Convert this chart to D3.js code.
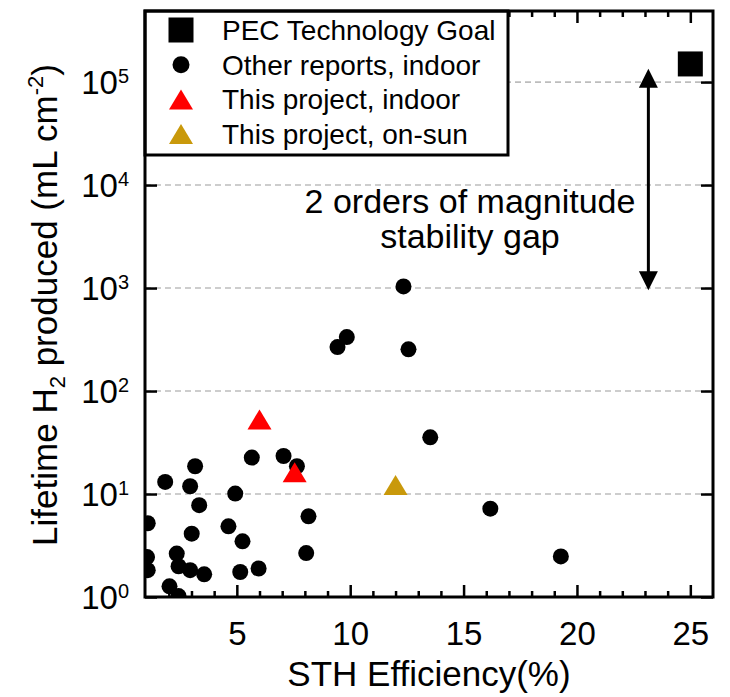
<!DOCTYPE html>
<html>
<head>
<meta charset="utf-8">
<script src="https://cdn.jsdelivr.net/npm/d3@7"></script>
<style>
  html, body { margin: 0; padding: 0; background: #fff; }
  svg { display: block; font-family: "Liberation Sans", Arial, sans-serif; }
</style>
</head>
<body>
<svg id="chart" width="730" height="697"></svg>
<script>
// Other published devices, indoor testing
const otherEff = [1.84, 3.16, 2.94, 3.34, 4.93, 5.66, 7.06, 7.65, 8.16, 1.07, 3.01, 4.63, 5.25, 8.06,
                  1.04, 2.35, 1.07, 2.43, 2.94, 3.56, 5.15, 5.96, 2.03, 2.43,
                  12.35, 9.85, 9.44, 12.57, 13.53, 16.18, 19.29];
const otherH2  = [13.1, 18.6, 11.9, 7.8, 10.1, 22.6, 23.4, 18.6, 6.07, 5.2, 4.12, 4.86, 3.47, 2.67,
                  2.44, 2.64, 1.82, 1.99, 1.82, 1.66, 1.75, 1.89, 1.27, 1.02,
                  1038, 334, 267, 254, 35.5, 7.2, 2.48];
// This project
const indoorEff = [6.0, 7.55];
const indoorH2  = [53, 16.3];
const sunEff = [12.0];
const sunH2  = [12.2];
// PEC technology target
const goalEff = [25];
const goalH2  = [1.5e5];
// Stability gap annotation (arrow span)
const gapEff = 23.15;
const gapH2  = [950, 1.35e5];
const gapText = ["2 orders of magnitude", "stability gap"];

const xMajor = [5, 10, 15, 20, 25];
const xMinor = [2, 3, 4, 6, 7, 8, 9, 11, 12, 13, 14, 16, 17, 18, 19, 21, 22, 23, 24];
const yMajor = [1, 10, 100, 1000, 10000, 100000];
const yGrid  = [10, 100, 1000, 10000, 100000];
const legendLabels = ["PEC Technology Goal", "Other reports, indoor", "This project, indoor", "This project, on-sun"];

const RED = "#ff0000", GOLD = "#c9990b";

const svg = d3.select("#chart");
const L = 145, R = 713, T = 11, B = 597;

const x = d3.scaleLinear().domain([0.95, 26]).range([L, R]);
const y = d3.scaleLog().domain([1, 4.9e5]).range([B, T]);

svg.append("defs").append("clipPath").attr("id", "plotClip")
  .append("rect").attr("x", L).attr("y", T).attr("width", R - L).attr("height", B - T);

// dashed decade gridlines
svg.append("g").selectAll("line").data(yGrid).join("line")
  .attr("x1", L).attr("x2", R)
  .attr("y1", d => y(d)).attr("y2", d => y(d))
  .attr("stroke", "#bdbdbd").attr("stroke-width", 1.6).attr("stroke-dasharray", "6,4");

const plot = svg.append("g").attr("clip-path", "url(#plotClip)");

// other reports
plot.append("g").selectAll("circle").data(otherEff.map((e, i) => [e, otherH2[i]])).join("circle")
  .attr("cx", d => x(d[0])).attr("cy", d => y(d[1])).attr("r", 8).attr("fill", "#000");

const tri = (w, h) => `M0,${-h / 2}L${w / 2},${h / 2}L${-w / 2},${h / 2}Z`;

plot.append("g").selectAll("path").data(indoorEff.map((e, i) => [e, indoorH2[i]])).join("path")
  .attr("d", tri(24, 20)).attr("fill", RED)
  .attr("transform", d => `translate(${x(d[0])},${y(d[1])})`);

plot.append("g").selectAll("path").data(sunEff.map((e, i) => [e, sunH2[i]])).join("path")
  .attr("d", tri(24, 20)).attr("fill", GOLD)
  .attr("transform", d => `translate(${x(d[0])},${y(d[1])})`);

plot.append("g").selectAll("rect").data(goalEff.map((e, i) => [e, goalH2[i]])).join("rect")
  .attr("x", d => x(d[0]) - 12.5).attr("y", d => y(d[1]) - 12.5)
  .attr("width", 25).attr("height", 25).attr("fill", "#000");

// double-headed arrow
const ax = x(gapEff), yTop = y(gapH2[1]), yBot = y(gapH2[0]);
const ag = svg.append("g");
ag.append("line").attr("x1", ax).attr("x2", ax).attr("y1", yTop + 12).attr("y2", yBot - 12)
  .attr("stroke", "#000").attr("stroke-width", 3);
ag.append("path").attr("d", `M${ax},${yTop}L${ax + 9.5},${yTop + 19}L${ax - 9.5},${yTop + 19}Z`).attr("fill", "#000");
ag.append("path").attr("d", `M${ax},${yBot}L${ax + 9.5},${yBot - 19}L${ax - 9.5},${yBot - 19}Z`).attr("fill", "#000");

const gt = svg.append("text").attr("text-anchor", "middle").attr("font-size", 34).attr("fill", "#000");
gt.selectAll("tspan").data(gapText).join("tspan")
  .attr("x", 470).attr("y", (d, i) => 213 + i * 35).text(d => d);

// axes: ticks point inward, mirrored on top/right
const axG = svg.append("g");
const styleAxis = g => {
  g.select(".domain").remove();
  g.selectAll(".tick line").attr("stroke", "#000").attr("stroke-width", 2.5);
  g.selectAll("text").attr("fill", "#000").attr("font-family", "Liberation Sans, Arial, sans-serif");
};

axG.append("g").attr("transform", `translate(0,${B})`)
  .call(d3.axisBottom(x).tickValues(xMajor).tickSizeInner(-12).tickSizeOuter(0).tickPadding(25))
  .call(styleAxis)
  .call(g => g.selectAll("text").attr("font-size", 33));
axG.append("g").attr("transform", `translate(0,${B})`)
  .call(d3.axisBottom(x).tickValues(xMinor).tickSizeInner(-6).tickSizeOuter(0).tickFormat(""))
  .call(styleAxis);
axG.append("g").attr("transform", `translate(0,${T})`)
  .call(d3.axisTop(x).tickValues(xMajor).tickSizeInner(-12).tickSizeOuter(0).tickFormat(""))
  .call(styleAxis);
axG.append("g").attr("transform", `translate(0,${T})`)
  .call(d3.axisTop(x).tickValues(xMinor).tickSizeInner(-6).tickSizeOuter(0).tickFormat(""))
  .call(styleAxis);

axG.append("g").attr("transform", `translate(${L},0)`)
  .call(d3.axisLeft(y).tickValues(yMajor).tickSizeInner(-12).tickSizeOuter(0).tickPadding(16))
  .call(styleAxis)
  .call(g => g.selectAll("text").each(function (d) {
    const t = d3.select(this).text(null).attr("font-size", 33).attr("dy", "0.35em");
    t.append("tspan").text("10");
    t.append("tspan").attr("font-size", 20).attr("dy", -11).text(Math.round(Math.log10(d)));
  }));
axG.append("g").attr("transform", `translate(${R},0)`)
  .call(d3.axisRight(y).tickValues(yMajor).tickSizeInner(-12).tickSizeOuter(0).tickFormat(""))
  .call(styleAxis);

// legend
const lg = svg.append("g");
lg.append("rect").attr("x", L).attr("y", T).attr("width", 508 - L).attr("height", 155 - T)
  .attr("fill", "#fff").attr("stroke", "#000").attr("stroke-width", 3);
const rowY = i => 30 + i * 34.7;
lg.append("rect").attr("x", 181 - 12.5).attr("y", rowY(0) - 12.5).attr("width", 25).attr("height", 25).attr("fill", "#000");
lg.append("circle").attr("cx", 181).attr("cy", rowY(1)).attr("r", 8.5).attr("fill", "#000");
lg.append("path").attr("d", tri(24, 20)).attr("fill", RED).attr("transform", `translate(181,${rowY(2)})`);
lg.append("path").attr("d", tri(24, 20)).attr("fill", GOLD).attr("transform", `translate(181,${rowY(3)})`);
lg.selectAll("text").data(legendLabels).join("text")
  .attr("x", 222).attr("y", (d, i) => rowY(i) + 10).attr("font-size", 28).attr("fill", "#000").text(d => d);

// plot frame
svg.append("rect").attr("x", L).attr("y", T).attr("width", R - L).attr("height", B - T)
  .attr("fill", "none").attr("stroke", "#000").attr("stroke-width", 3);

// axis titles
svg.append("text").attr("x", (L + R) / 2).attr("y", 686).attr("text-anchor", "middle")
  .attr("font-size", 35).attr("fill", "#000").text("STH Efficiency(%)");

const yt = svg.append("text").attr("transform", "translate(57,305) rotate(-90)")
  .attr("text-anchor", "middle").attr("font-size", 35).attr("fill", "#000");
yt.append("tspan").text("Lifetime H");
yt.append("tspan").attr("font-size", 22).attr("dy", 8).text("2");
yt.append("tspan").attr("dy", -8).text(" produced (mL cm");
yt.append("tspan").attr("font-size", 22).attr("dy", -14).text("-2");
yt.append("tspan").attr("dy", 14).text(")");
</script>
</body>
</html>
